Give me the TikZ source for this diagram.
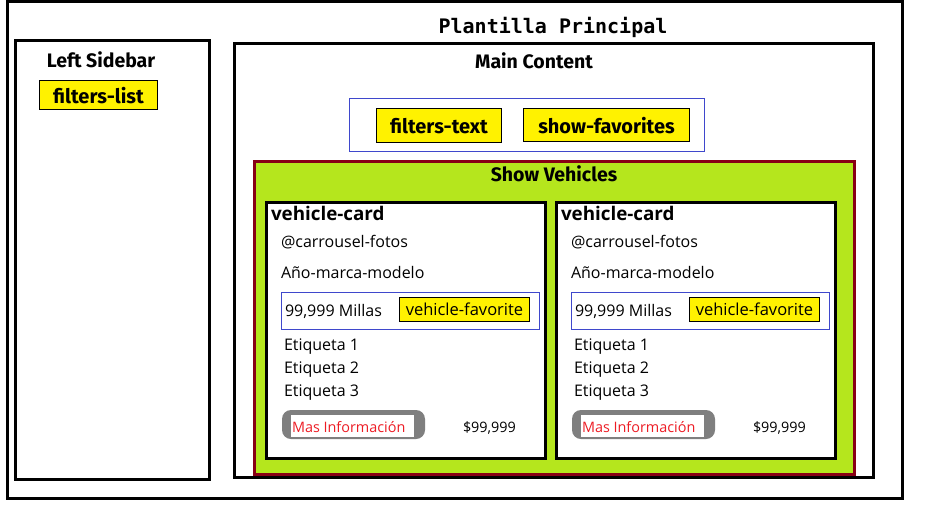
\documentclass[tikz,border=0pt]{standalone}
\usepackage{fontspec}
\setmainfont{Open Sans}
\newfontfamily\headfont{Fira Sans}
\newfontfamily\codefont{DejaVu Sans Mono}

\definecolor{tagyellow}{HTML}{FFF200}
\definecolor{vehgreen}{HTML}{B5E61D}
\definecolor{vehborder}{HTML}{880015}
\definecolor{groupblue}{HTML}{3F48CC}
\definecolor{btngray}{HTML}{7F7F7F}
\definecolor{btnred}{HTML}{ED1C24}

\tikzset{
  every node/.style={outer sep=0pt},
  frame/.style={draw=black, line width=3pt, inner sep=0pt, anchor=north west},
  group/.style={draw=groupblue, line width=0.9pt, inner sep=0pt, anchor=north west},
  tag/.style={draw=black, fill=tagyellow, line width=1pt, inner sep=0pt, anchor=north west,
              text depth=0pt},
  heading/.style={font=\headfont\bfseries\fontsize{19.5}{22}\selectfont, inner sep=0pt, anchor=base},
  tagtext/.style={font=\headfont\bfseries\fontsize{20}{22}\selectfont},
  body/.style={font=\fontsize{16}{19}\selectfont, inner sep=0pt, anchor=base west},
  small/.style={font=\fontsize{14.4}{17}\selectfont, inner sep=0pt, anchor=base west},
  cardtitle/.style={font=\bfseries\fontsize{18.8}{22}\selectfont, inner sep=0pt, anchor=base west},
}

\begin{document}
\begin{tikzpicture}[x=1pt, y=-1pt]
\useasboundingbox (0,0) rectangle (938,520);

% page template
\node[frame, minimum width=895pt, minimum height=497pt] (page) at (7.5,1.5) {};
\node[font=\codefont\bfseries\fontsize{20}{23}\selectfont, inner sep=0pt, anchor=base] (pagetitle) at (553,33) {Plantilla Principal};

% left sidebar
\node[frame, minimum width=194pt, minimum height=439pt] (sidebar) at (15.5,40.5) {};
\node[heading] (sidebartitle) at (101,67) {Left Sidebar};
\node[tag, tagtext, minimum width=118pt, minimum height=29pt] (filterslist) at (39.5,80.5) {filters-list};

% main content
\node[frame, minimum width=639pt, minimum height=434pt] (main) at (234.5,43.5) {};
\node[heading] (maintitle) at (534,68) {Main Content};

% filter controls
\node[group, minimum width=355pt, minimum height=53pt] (filters) at (349.5,98.5) {};
\node[tag, tagtext, minimum width=125pt, minimum height=34pt] (filterstext) at (376.5,108.5) {filters-text};
\node[tag, tagtext, minimum width=166pt, minimum height=33pt] (showfav) at (523.5,108.5) {show-favorites};

% vehicle list
\node[draw=vehborder, fill=vehgreen, line width=3pt, inner sep=0pt, anchor=north west,
      minimum width=600pt, minimum height=313pt] (vehicles) at (254,161.5) {};
\node[heading] (vehiclestitle) at (554,181) {Show Vehicles};

% vehicle cards
\foreach \i in {0,1}{
  \pgfmathsetmacro{\dx}{290*\i}
  \node[frame, fill=white, minimum width=278.5pt, minimum height=255.5pt] (card\i) at (266.5+\dx,202.5) {};
  \node[cardtitle] (cardtitle\i) at (271+\dx,220) {vehicle-card};
  \node[body] (photos\i) at (281+\dx,247) {@carrousel-fotos};
  \node[body] (model\i) at (281+\dx,278) {Año-marca-modelo};
  \node[group, minimum width=258pt, minimum height=37pt] (mileagebox\i) at (281.5+\dx,292.5) {};
  \node[body] (mileage\i) at (285+\dx,316) {99,999 Millas};
  \node[tag, font=\fontsize{16.5}{19}\selectfont, minimum width=130pt, minimum height=24pt] (fav\i) at (399.5+\dx,297.5) {vehicle-favorite};
  \node[body] (label1\i) at (284+\dx,350) {Etiqueta 1};
  \node[body] (label2\i) at (284+\dx,373) {Etiqueta 2};
  \node[body] (label3\i) at (284+\dx,396) {Etiqueta 3};
  \node[fill=btngray, rounded corners=9pt, inner sep=0pt, anchor=north west,
        minimum width=143pt, minimum height=29pt] (button\i) at (282+\dx,410) {};
  \node[fill=white, inner sep=0pt, anchor=north west,
        minimum width=123pt, minimum height=22pt] (buttonface\i) at (291+\dx,415) {};
  \node[small, text=btnred] (buttontext\i) at (292+\dx,432) {Mas Información};
  \node[small] (price\i) at (463+\dx,432) {\$99,999};
}
\end{tikzpicture}
\end{document}
